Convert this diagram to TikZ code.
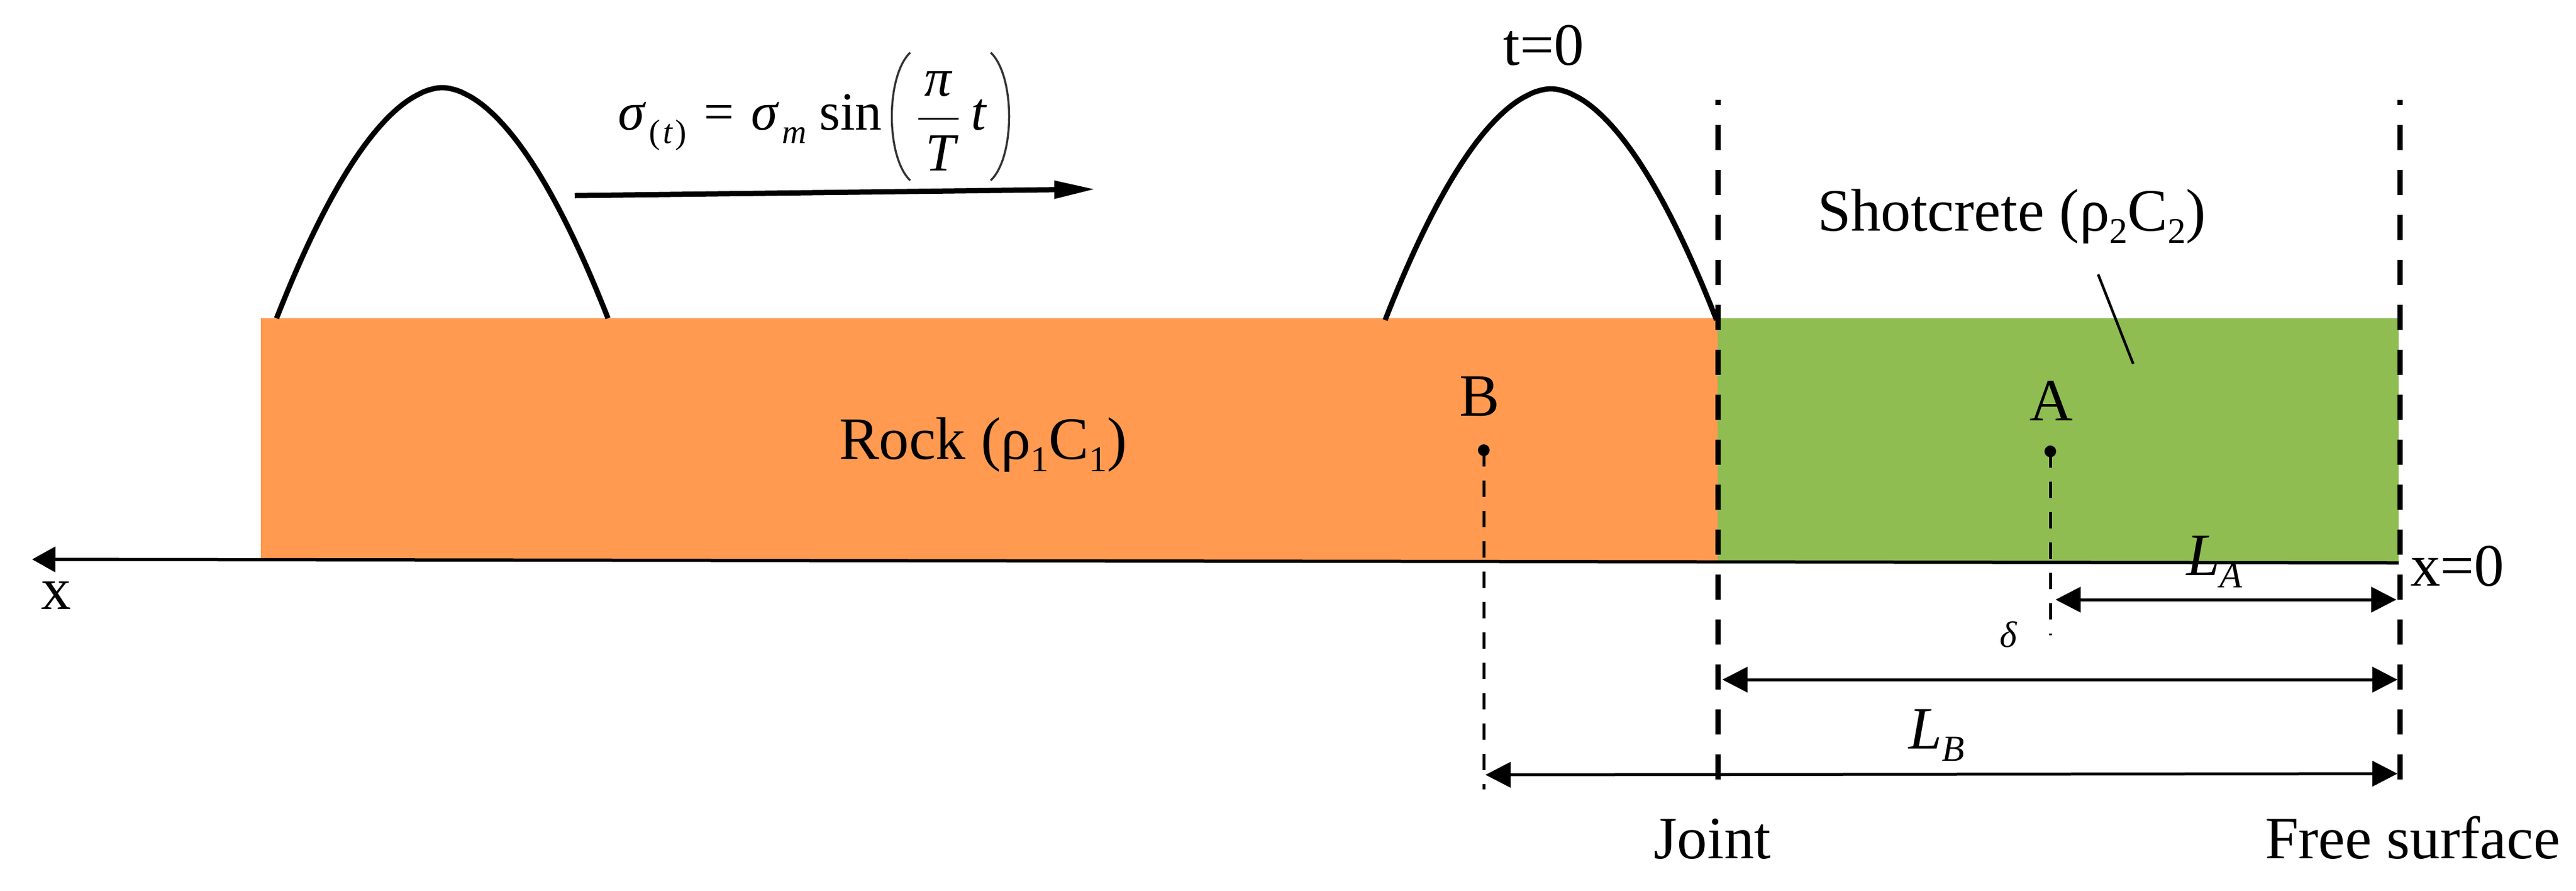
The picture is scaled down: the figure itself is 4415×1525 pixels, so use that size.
\documentclass[tikz,border=0pt]{standalone}
\usepackage{fontspec}
\setmainfont{Liberation Serif}
\usetikzlibrary{arrows.meta}
\definecolor{rockc}{HTML}{FF9A50}
\definecolor{shotc}{HTML}{8FBD52}
\newcommand{\lowsub}[1]{\raisebox{-0.21em}{\fontsize{12.4}{14}\selectfont #1}}
\tikzset{
  x=0.2pt,y=-0.2pt,
  lab/.style={anchor=base west,inner sep=0pt,outer sep=0pt,font=\fontsize{20.6}{24}\selectfont,text=black},
  labc/.style={lab,anchor=base},
  smalllab/.style={lab,font=\fontsize{12.6}{15}\selectfont},
  eqn/.style={lab,anchor=base,font=\fontsize{18.4}{22}\selectfont},
  eqni/.style={lab,anchor=base,font=\fontsize{18.4}{22}\selectfont\itshape},
  eqsub/.style={lab,anchor=base west,font=\fontsize{11.6}{14}\selectfont\itshape},
  pulse/.style={draw=black,line width=1.8pt,line cap=butt},
  axisline/.style={draw=black,line width=1.1pt,-{Triangle[length=8pt,width=8.6pt]}},
  bigdash/.style={draw=black,line width=1.8pt,dash pattern=on 8.6pt off 6.8pt,dash phase=6.8pt},
  thindash/.style={draw=black,line width=1pt,dash pattern=on 5.6pt off 4.8pt},
  dim/.style={draw=black,line width=1pt,{Triangle[length=8.6pt,width=8.6pt]}-{Triangle[length=8.6pt,width=8.6pt]}},
  wavearrow/.style={draw=black,line width=1.8pt,-{Triangle[length=14pt,width=5.8pt]}},
  leader/.style={draw=black,line width=0.9pt},
  fracbar/.style={draw=black,line width=0.6pt},
  bigparen/.style={draw=black!80,line width=0.7pt},
  ptdot/.style={circle,fill=black,inner sep=0pt,minimum size=4pt}
}
\begin{document}
\begin{tikzpicture}
\useasboundingbox (0,0) rectangle (4415,1525);
% coordinates
\coordinate (rockTL) at (447,545);
\coordinate (rockBR) at (2944,960);
\coordinate (shotTL) at (2944,545);
\coordinate (shotBR) at (4111,962);
\coordinate (axL) at (55,958);
\coordinate (axR) at (4111,964);
\coordinate (jTop) at (2944,171);
\coordinate (jBot) at (2944,1338);
\coordinate (fTop) at (4113,171);
\coordinate (fBot) at (4113,1338);
\coordinate (bEnd) at (2543,1352);
\coordinate (aEnd) at (3514,1088);
\coordinate (laL) at (3523,1027);
\coordinate (laR) at (4107,1027);
\coordinate (jfL) at (2952,1164);
\coordinate (jfR) at (4109,1164);
\coordinate (lbL) at (2546,1327);
\coordinate (lbR) at (4109,1325);
\coordinate (wa) at (985,335);
\coordinate (wb) at (1877,324);
\coordinate (ls) at (3596,470);
\coordinate (le) at (3656,623);
\coordinate (barL) at (1574,203);
\coordinate (barR) at (1643,203);
\coordinate (plT) at (1560,90);
\coordinate (plB) at (1560,309);
\coordinate (prT) at (1698,90);
\coordinate (prB) at (1698,309);
% blocks
\fill[rockc] (rockTL) rectangle (rockBR);
\fill[shotc] (shotTL) rectangle (shotBR);
% pulses
\draw[pulse] plot[domain=-284:284,samples=80] ({758+\x},{150+395*pow(abs(\x)/284+0.0001,1.83)});
\draw[pulse] plot[domain=-284:284,samples=80] ({2658+\x},{152+396*pow(abs(\x)/284+0.0001,1.83)});
% axis
\draw[axisline] (axR) -- (axL);
% points
\node[ptdot] (ptB) at (2543,771) {};
\node[ptdot] (ptA) at (3514,773) {};
\draw[thindash] (ptB.center) -- (bEnd);
\draw[thindash] (ptA.center) -- (aEnd);
% joint and free surface
\draw[bigdash] (jTop) -- (jBot);
\draw[bigdash] (fTop) -- (fBot);
% dimensions
\draw[dim] (laL) -- (laR);
\draw[dim] (jfL) -- (jfR);
\draw[dim] (lbL) -- (lbR);
% wave direction and leader
\draw[wavearrow] (wa) -- (wb);
\draw[leader] (ls) -- (le);
% labels
\node[lab] (rocklab) at (1438,786) {Rock (ρ\lowsub{1}C\lowsub{1})};
\node[lab] (shotlab) at (3115,395) {Shotcrete (ρ\lowsub{2}C\lowsub{2})};
\node[labc] (tzero) at (2646,111) {t=0};
\node[labc] (labB) at (2536,712) {B};
\node[labc] (labA) at (3516,720) {A};
\node[labc] (labx) at (96,1043) {x};
\node[lab] (labx0) at (4131,1003) {x=0};
\node[labc] (joint) at (2935,1470) {Joint};
\node[lab] (free) at (3882,1470) {Free surface};
\node[lab] (labLA) at (3747,985) {\itshape L\raisebox{-0.21em}{\fontsize{12.6}{14}\selectfont A}};
\node[lab] (labLB) at (3271,1282) {\itshape L\raisebox{-0.21em}{\fontsize{12.6}{14}\selectfont B}};
\node[smalllab] (labd) at (3427,1108) {\itshape δ};
% formula
\node[eqni] (sigA) at (1082,222) {σ};
\node[eqsub] (subT) at (1112,245) {{\upshape(}\hspace{1pt}t\hspace{1pt}{\upshape)}};
\node[eqn] (eqsign) at (1232,222) {=};
\node[eqni] (sigB) at (1310,222) {σ};
\node[eqsub] (subM) at (1340,245) {m};
\node[eqn] (sinw) at (1458,222) {sin};
\draw[bigparen] (plT) .. controls (1518,130) and (1518,269) .. (plB);
\draw[bigparen] (prT) .. controls (1740,130) and (1740,269) .. (prB);
\node[eqni] (numpi) at (1608,164) {π};
\draw[fracbar] (barL) -- (barR);
\node[eqni] (denT) at (1612,292) {T};
\node[eqni] (vart) at (1677,222) {t};
\end{tikzpicture}
\end{document}
